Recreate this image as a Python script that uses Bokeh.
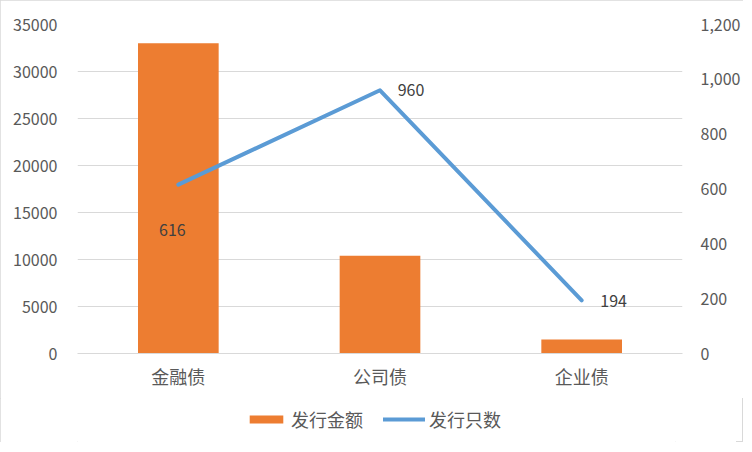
from bokeh.plotting import figure
from bokeh.layouts import column
from bokeh.models import (FactorRange, Range1d, LinearAxis, Legend, LegendItem,
                          FixedTicker, NumeralTickFormatter, ColumnDataSource)
from bokeh.core.properties import value
from bokeh.embed import file_html
from bokeh.resources import INLINE

categories = ["金融债", "公司债", "企业债"]
amount = [33000, 10400, 1500]      # 发行金额
count = [616, 960, 194]            # 发行只数
left_ticks = [0, 5000, 10000, 15000, 20000, 25000, 30000, 35000]
right_ticks = [0, 200, 400, 600, 800, 1000, 1200]
series_names = ["发行金额", "发行只数"]

FONT = "Noto Sans CJK SC"
TXT = "#595959"
BAR_C = "#ed7d31"
LINE_C = "#5b9bd5"

src = ColumnDataSource(dict(cat=categories, amount=amount, count=count))
xr = FactorRange(*categories, range_padding=0)

p = figure(x_range=xr, y_range=Range1d(0, 35000),
           frame_width=605, frame_height=329,
           output_backend="svg", toolbar_location=None,
           min_border_left=77, min_border_right=54, min_border_top=24,
           min_border_bottom=45)
p.extra_y_ranges = {"cnt": Range1d(0, 1200)}
p.outline_line_color = None

bars = p.vbar(x="cat", top="amount", width=0.4, source=src,
              fill_color=BAR_C, line_color=None)
line = p.line(x="cat", y="count", source=src, y_range_name="cnt",
              line_color=LINE_C, line_width=4, line_cap="round", line_join="round")

# data labels
offsets = [(-6, 45), (31, 0), (32, 1)]
for i, (dx, dy) in enumerate(offsets):
    s = ColumnDataSource(dict(x=[categories[i]], y=[count[i]], t=[str(count[i])]))
    p.text(x="x", y="y", text="t", source=s, y_range_name="cnt",
           x_offset=dx, y_offset=dy, text_align="center", text_baseline="middle",
           text_font=value(FONT), text_font_size="16px", text_color="#404040")

# axes
p.yaxis.ticker = FixedTicker(ticks=left_ticks)
ya = p.yaxis[0]
ya.axis_line_color = None
ya.major_tick_line_color = None
ya.minor_tick_line_color = None
ya.major_label_text_font = FONT
ya.major_label_text_font_size = "16px"
ya.major_label_text_color = TXT
ya.major_label_standoff = 14

ra = LinearAxis(y_range_name="cnt", ticker=FixedTicker(ticks=right_ticks),
                formatter=NumeralTickFormatter(format="0,0"))
ra.axis_line_color = None
ra.major_tick_line_color = None
ra.minor_tick_line_color = None
ra.major_label_text_font = FONT
ra.major_label_text_font_size = "16px"
ra.major_label_text_color = TXT
ra.major_label_standoff = 12
p.add_layout(ra, "right")

xa = p.xaxis[0]
xa.axis_line_color = "#d9d9d9"
xa.major_tick_line_color = None
xa.minor_tick_line_color = None
xa.major_label_text_font = FONT
xa.major_label_text_font_size = "18px"
xa.major_label_text_color = TXT
xa.major_label_standoff = 3

p.xgrid.grid_line_color = None
p.ygrid.grid_line_color = "#d9d9d9"
p.ygrid.grid_line_width = 1

# legend strip below the chart (same series, hidden renderers used only for the legend)
lf = figure(width=736, height=44, x_range=xr, y_range=Range1d(-2, -1),
            x_axis_type=None, y_axis_type=None, output_backend="svg",
            toolbar_location=None, min_border=0)
lf.outline_line_color = None
lf.grid.grid_line_color = None
lb = lf.vbar(x="cat", top="amount", width=0.4, source=src,
             fill_color=BAR_C, line_color=None)
ll = lf.line(x="cat", y="amount", source=src, line_color=LINE_C,
             line_width=4, line_cap="round")
lb.visible = False
ll.visible = False
legend = Legend(items=[LegendItem(label=series_names[0], renderers=[lb]),
                       LegendItem(label=series_names[1], renderers=[ll])],
                orientation="horizontal", location=(168, 10),
                label_text_font=FONT, label_text_font_size="18px",
                label_text_color=TXT, glyph_width=42, glyph_height=10,
                label_standoff=4, spacing=20, border_line_color=None,
                background_fill_alpha=0, margin=0, padding=4)
lf.add_layout(legend, "center")

layout = column(p, lf, styles={"outline": "1px solid #d9d9d9", "outline-offset": "-1px"})

open("out.html", "w").write(file_html(layout, INLINE))
